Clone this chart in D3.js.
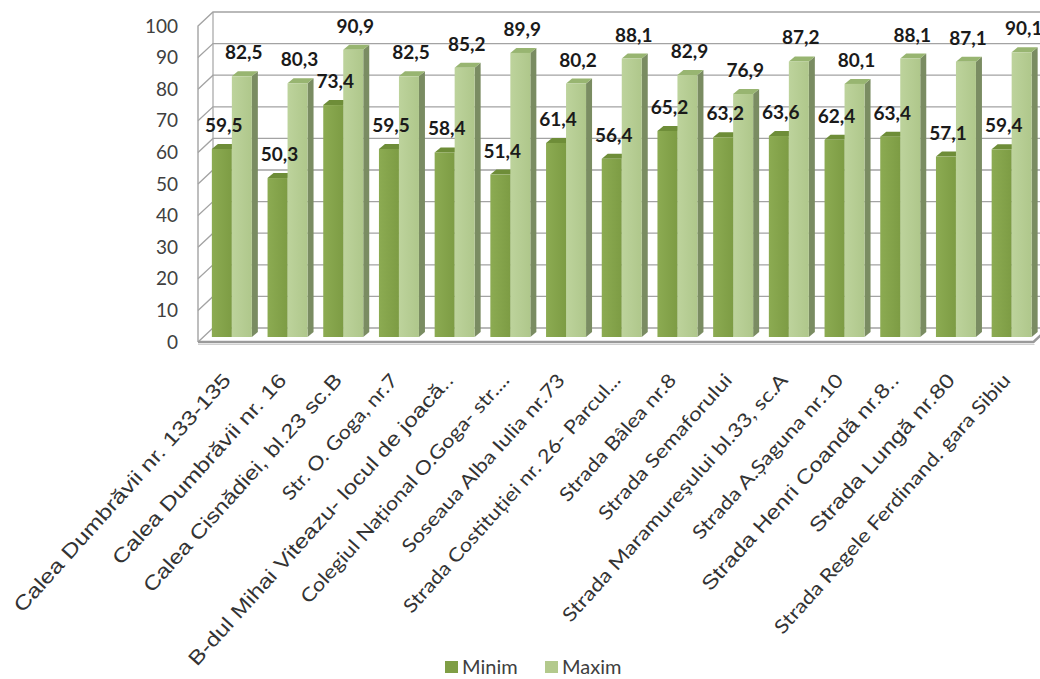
<!DOCTYPE html>
<html>
<head>
<meta charset="utf-8">
<script src="https://cdn.jsdelivr.net/npm/d3@7"></script>
<style>
  html, body { margin: 0; padding: 0; background: #ffffff; }
  svg { display: block; }
</style>
</head>
<body>
<svg id="chart" width="1040" height="679"></svg>
<script>
// Monitoring points (category axis)
const categories = [
  "Calea Dumbrăvii nr. 133-135",
  "Calea Dumbrăvii nr. 16",
  "Calea Cisnădiei, bl.23 sc.B",
  "Str. O. Goga, nr.7",
  "B-dul Mihai Viteazu- locul de joacă..",
  "Colegiul Național O.Goga- str....",
  "Soseaua Alba Iulia nr.73",
  "Strada Costituției nr. 26- Parcul...",
  "Strada Bâlea nr.8",
  "Strada Semaforului",
  "Strada Maramureşului bl.33, sc.A",
  "Strada A.Șaguna nr.10",
  "Strada Henri Coandă nr.8..",
  "Strada Lungă nr.80",
  "Strada Regele Ferdinand. gara Sibiu"
];

// Series values
const minim = [59.5, 50.3, 73.4, 59.5, 58.4, 51.4, 61.4, 56.4, 65.2, 63.2, 63.6, 62.4, 63.4, 57.1, 59.4];
const maxim = [82.5, 80.3, 90.9, 82.5, 85.2, 89.9, 80.2, 88.1, 82.9, 76.9, 87.2, 80.1, 88.1, 87.1, 90.1];
const seriesNames = ["Minim", "Maxim"];

// Value axis ticks
const yTicks = [0, 10, 20, 30, 40, 50, 60, 70, 80, 90, 100];

// Category label typography (the source mixes two faces)
const labelFamily = ["A", "A", "A", "C", "A", "C", "C", "C", "C", "C", "C", "C", "A", "A", "C"];
const labelLength = [313, 249, 286, 162, 385, 301, 233, 314, 164, 189, 326, 215, 284, 206, 342];

const svg = d3.select("#chart");

// Plot geometry (front plane + depth offset of the walls)
const x0 = 198, plotW = 835.5;
const depthX = 15, depthY = -14;
const barDX = 6, barDY = -5;   // bar depth
const barW = 20;

const y = d3.scaleLinear().domain([0, 100]).range([342, 26]);
const x = d3.scaleBand().domain(categories).range([x0, x0 + plotW]).paddingInner(0).paddingOuter(0);
const sub = d3.scaleBand().domain(seriesNames).range([0, barW * 2]);

const colors = {
  Minim: { front0: "#8cab52", front1: "#7d9c44", top: "#6e8d38", side: "#5e7a30", legend: "#7f9e45" },
  Maxim: { front0: "#bdd39c", front1: "#afc78b", top: "#98b571", side: "#7a8c62", legend: "#b3c98c" }
};

const defs = svg.append("defs");
seriesNames.forEach(s => {
  const g = defs.append("linearGradient").attr("id", "grad-" + s)
    .attr("x1", "0%").attr("x2", "100%").attr("y1", "0%").attr("y2", "0%");
  g.append("stop").attr("offset", "0%").attr("stop-color", colors[s].front0);
  g.append("stop").attr("offset", "100%").attr("stop-color", colors[s].front1);
});

const grid = svg.append("g").attr("fill", "none");
const gridColor = "#a3a3a3";

// Left wall and back wall outlines
grid.append("path")
  .attr("d", `M${x0},${y(0)} L${x0},${y(100)} L${x0 + depthX},${y(100) + depthY} L${x0 + plotW + depthX + 20},${y(100) + depthY}`)
  .attr("stroke", gridColor).attr("stroke-width", 1.4);
grid.append("line")
  .attr("x1", x0 + depthX).attr("x2", x0 + depthX)
  .attr("y1", y(100) + depthY).attr("y2", y(0) + depthY)
  .attr("stroke", gridColor).attr("stroke-width", 1.2);

// Gridlines on left wall + back wall
yTicks.forEach(t => {
  if (t === 100) return;
  grid.append("path")
    .attr("d", `M${x0},${y(t)} L${x0 + depthX},${y(t) + depthY} L${x0 + plotW + depthX + 20},${y(t) + depthY}`)
    .attr("stroke", gridColor).attr("stroke-width", 1.3);
});

// Floor front edge
grid.append("path")
  .attr("d", `M${x0},${y(0)} L${x0 + plotW},${y(0)} L${x0 + plotW + depthX},${y(0) + depthY}`)
  .attr("stroke", "#9a9a9a").attr("stroke-width", 2.4);
grid.append("path")
  .attr("d", `M${x0},${y(0) + 2.5} L${x0 + plotW + 1},${y(0) + 2.5}`)
  .attr("stroke", "#d0d0d0").attr("stroke-width", 1.2);

// Y axis labels
svg.append("g").selectAll("text").data(yTicks).join("text")
  .attr("x", 178).attr("y", d => y(d))
  .attr("dy", "0.35em")
  .attr("text-anchor", "end")
  .attr("font-family", "Lato, 'Open Sans', sans-serif")
  .attr("font-size", 19)
  .attr("fill", "#404040")
  .text(d => d);

// Bars (3D columns: front, top, side)
const rows = categories.map((c, i) => ({ c, Minim: minim[i], Maxim: maxim[i] }));
const inset = (x.bandwidth() - barW * 2) / 2;
const base = y(0) + barDY;

const barsG = svg.append("g");
rows.forEach(r => {
  seriesNames.forEach(s => {
    const v = r[s];
    const bx = x(r.c) + inset + sub(s) + barDX;
    const top = y(v) + barDY;
    const g = barsG.append("g");
    g.append("path")
      .attr("d", `M${bx + barW},${top} L${bx + barW + barDX},${top + barDY} L${bx + barW + barDX},${base + barDY} L${bx + barW},${base} Z`)
      .attr("fill", colors[s].side);
    g.append("path")
      .attr("d", `M${bx},${top} L${bx + barDX},${top + barDY} L${bx + barW + barDX},${top + barDY} L${bx + barW},${top} Z`)
      .attr("fill", colors[s].top);
    g.append("rect")
      .attr("x", bx).attr("y", top)
      .attr("width", barW).attr("height", base - top)
      .attr("fill", `url(#grad-${s})`);
  });
});

// Value labels
const ro = d3.formatLocale({ decimal: ",", thousands: ".", grouping: [3], currency: ["", " lei"] });
const fmt = ro.format(".1f");
const labelsG = svg.append("g");
rows.forEach(r => {
  seriesNames.forEach(s => {
    const v = r[s];
    const cx = x(r.c) + inset + sub(s) + barDX + barW / 2 + 2;
    labelsG.append("text")
      .attr("x", cx).attr("y", y(v) + barDY - 17)
      .attr("text-anchor", "middle")
      .attr("font-family", "Lato, 'Open Sans', sans-serif")
      .attr("font-weight", 700)
      .attr("font-size", 19)
      .attr("fill", "#1a1a1a")
      .text(fmt(v));
  });
});

// Category labels, rotated
const catG = svg.append("g");
categories.forEach((c, i) => {
  const px = x(c) + x.bandwidth() / 2 + 6;
  const py = 381;
  catG.append("text")
    .attr("transform", `translate(${px},${py}) rotate(-48)`)
    .attr("text-anchor", "end")
    .attr("font-family", labelFamily[i] === "A" ? "'Liberation Sans', Arial, sans-serif" : "Lato, 'Open Sans', sans-serif")
    .attr("font-size", labelFamily[i] === "A" ? 20 : 19)
    .attr("textLength", labelLength[i])
    .attr("lengthAdjust", "spacingAndGlyphs")
    .attr("fill", "#333333")
    .text(c);
});

// Legend
const legend = svg.append("g").attr("transform", "translate(445,667)");
const legendX = { Minim: 0, Maxim: 100 };
seriesNames.forEach(s => {
  const g = legend.append("g").attr("transform", `translate(${legendX[s]},0)`);
  g.append("rect").attr("x", 0).attr("y", -6).attr("width", 13).attr("height", 12).attr("fill", colors[s].legend);
  g.append("text").attr("x", 17).attr("y", 0).attr("dy", "0.35em")
    .attr("font-family", "Lato, 'Open Sans', sans-serif")
    .attr("font-size", 20).attr("fill", "#404040")
    .text(s);
});
</script>
</body>
</html>
